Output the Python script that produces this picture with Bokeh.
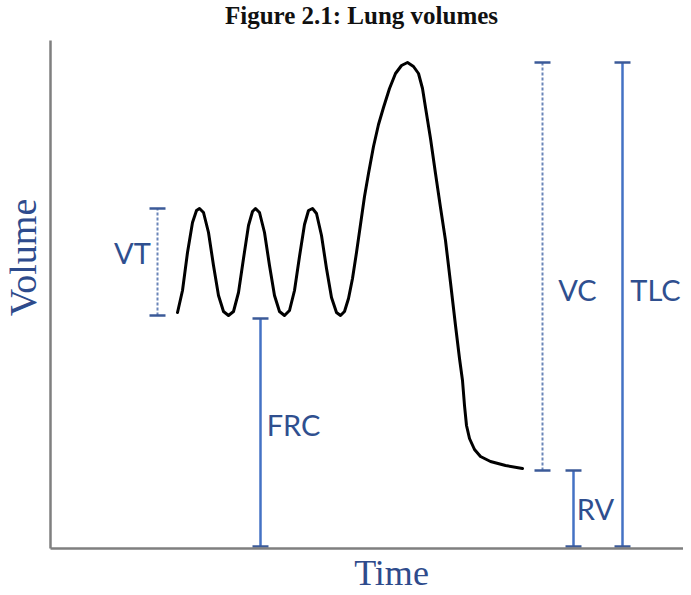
import math
from bokeh.plotting import figure
from bokeh.models import Range1d, FixedTicker, ColumnDataSource
from bokeh.core.properties import value
from bokeh.embed import file_html
from bokeh.resources import INLINE

# ---- data -------------------------------------------------------------
# spirometer trace: time (arbitrary units) and lung volume (arbitrary units)
trace_time = [127, 132, 137, 142, 146, 149, 153, 158, 163, 168, 173, 178,
              183, 188, 193, 198, 202, 205, 209, 214, 219, 224, 229, 234,
              239, 244, 249, 254, 258, 262, 266, 271, 276, 281, 286, 290,
              294, 298, 302, 306, 310, 314, 318, 323, 328, 333, 339, 345,
              351, 357, 363, 368, 372, 375, 380, 385, 390, 395, 400, 405,
              409, 412, 414, 416, 419, 424, 430, 440, 455, 472]
trace_volume = [236, 258, 296, 326, 338, 340, 336, 316, 283, 253, 237, 233,
                237, 256, 290, 323, 337, 340, 336, 316, 283, 253, 237, 233,
                238, 258, 292, 324, 338, 340, 335, 313, 280, 251, 236, 233,
                237, 250, 270, 296, 324, 352, 375, 402, 424, 441, 460, 475,
                483, 486, 482, 475, 460, 441, 410, 375, 341, 308, 266, 223,
                190, 168, 143, 123, 110, 99, 92, 87, 83, 80]

# lung volume brackets
bracket_names = ["VT", "FRC", "VC", "RV", "TLC"]
bracket_time = [107, 210, 492, 523, 572]
bracket_low = [233, 2, 78, 2, 2]
bracket_high = [340, 230, 486, 78, 486]
bracket_dashed = [True, False, True, False, False]

# label anchor points for the bracket names
label_time = [82, 243, 527, 545, 605]
label_volume = [296, 124, 259, 40, 259]

title_text = "Figure 2.1: Lung volumes"
x_label = "Time"
y_label = "Volume"

# axis extents (data units)
time_max = 633
volume_max = 508

# ---- figure -------------------------------------------------------------
p = figure(width=683, height=595, output_backend="svg", toolbar_location=None,
           x_range=Range1d(-50, time_max), y_range=Range1d(-47, 548),
           min_border=0, background_fill_color="white",
           border_fill_color="white")
p.outline_line_color = None
p.grid.visible = False

for ax in (p.xaxis[0], p.yaxis[0]):
    ax.fixed_location = 0
    ax.ticker = FixedTicker(ticks=[])
    ax.axis_line_color = "#7f7f7f"
    ax.axis_line_width = 2.5
    ax.major_tick_line_color = None
    ax.minor_tick_line_color = None
    ax.major_label_text_font_size = "0px"
    ax.major_label_standoff = 0
    ax.major_tick_out = 0
    ax.major_tick_in = 0
p.xaxis[0].bounds = (0, time_max)
p.yaxis[0].bounds = (0, volume_max)

axis_text_color = "#2e4b8c"
# title and axis titles (placed in the margin around the axes)
p.text(x=[311], y=[533], text=[title_text],
       text_font=value("Liberation Serif"), text_font_style="bold",
       text_font_size="25px", text_color="#111111",
       text_align="center", text_baseline="middle")
p.text(x=[-28], y=[291], text=[y_label], angle=math.pi / 2,
       text_font=value("Liberation Serif"), text_font_size="38px",
       text_color=axis_text_color, text_align="center", text_baseline="middle")
p.text(x=[341], y=[-24], text=[x_label],
       text_font=value("Liberation Serif"), text_font_size="36px",
       text_color=axis_text_color, text_align="center", text_baseline="middle")

# trace
p.line(trace_time, trace_volume, line_color="black", line_width=3,
       line_join="round", line_cap="round")

# brackets
cap_half = 8
solid = dict(x=[], y0=[], y1=[])
dashed = dict(x=[], y0=[], y1=[])
caps = dict(x0=[], x1=[], y=[])
for t, lo, hi, d in zip(bracket_time, bracket_low, bracket_high, bracket_dashed):
    target = dashed if d else solid
    target["x"].append(t)
    target["y0"].append(lo)
    target["y1"].append(hi)
    for v in (lo, hi):
        caps["x0"].append(t - cap_half)
        caps["x1"].append(t + cap_half)
        caps["y"].append(v)

p.segment(x0="x", y0="y0", x1="x", y1="y1", source=ColumnDataSource(solid),
          line_color="#4472c4", line_width=2.5)
p.segment(x0="x", y0="y0", x1="x", y1="y1", source=ColumnDataSource(dashed),
          line_color="#6a85b8", line_width=2, line_dash="3 2")
p.segment(x0="x0", y0="y", x1="x1", y1="y", source=ColumnDataSource(caps),
          line_color="#3b5a98", line_width=2.5)

p.text(x=label_time, y=label_volume, text=bracket_names,
       text_font=value("Lato"), text_font_size="29px",
       text_color="#2f4f8f", text_align="center", text_baseline="middle")

open("out.html", "w").write(file_html(p, INLINE))
